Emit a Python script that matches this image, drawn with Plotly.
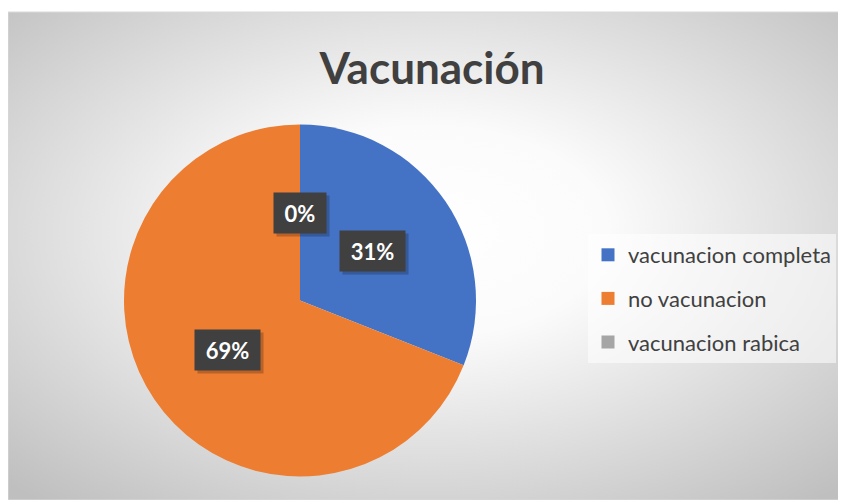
import base64
import math
import plotly.graph_objects as go

# data
labels = ["vacunacion completa", "no vacunacion", "vacunacion rabica"]
values = [31, 69, 0]
colors = ["#4472C4", "#ED7D31", "#A5A5A5"]

# the page body adds an 8px margin, so the figure is 8px smaller and
# everything below is given in page pixels minus that offset
OFF = 8
W, H = 846 - OFF, 500 - OFF
area = dict(x0=0, y0=12 - OFF, x1=W, y1=H)
cx, cy, r = 300 - OFF, 300.5 - OFF, 176

# radial gradient background like the Excel chart area
svg = (
    "<svg xmlns='http://www.w3.org/2000/svg' width='839' height='488' preserveAspectRatio='none'>"
    "<defs><radialGradient id='g' cx='50%' cy='45%' r='72%'>"
    "<stop offset='0' stop-color='#ffffff'/>"
    "<stop offset='0.3' stop-color='#fbfbfb'/>"
    "<stop offset='1' stop-color='#bfbfbf'/>"
    "</radialGradient></defs>"
    "<rect width='100%' height='100%' fill='url(#g)'/></svg>"
)
bg_src = "data:image/svg+xml;base64," + base64.b64encode(svg.encode()).decode()

fig = go.Figure()

fig.add_trace(go.Pie(
    labels=labels,
    values=values,
    marker=dict(colors=colors, line=dict(width=0)),
    sort=False,
    direction="clockwise",
    rotation=0,
    textinfo="none",
    hoverinfo="label+percent",
    showlegend=False,
    domain=dict(x=[(cx - r) / W, (cx + r) / W], y=[1 - (cy + r) / H, 1 - (cy - r) / H]),
))

# legend entries (separate so the row gap can be set)
for lab, col in zip(labels, colors):
    fig.add_trace(go.Scatter(
        x=[None], y=[None], mode="markers", name=lab, legendgroup=lab,
        marker=dict(symbol="square", size=13, color=col),
    ))

# data labels in dark boxes at half radius along each slice's mid angle
total = sum(values)
cum = 0
annotations = []
for v in values:
    mid = (cum + v / 2) / total * 2 * math.pi
    cum += v
    txt = f"{round(v / total * 100)}%"
    px = cx + 0.5 * r * math.sin(mid)
    py_ = cy - 0.5 * r * math.cos(mid)
    box_w = 14 + 13 * len(txt)
    common = dict(x=px / W, y=1 - py_ / H, xref="paper", yref="paper", showarrow=False,
                  xanchor="center", yanchor="middle",
                  width=box_w, height=28, borderpad=6)
    # soft drop shadow behind the box
    annotations.append(dict(text=" ", bgcolor="rgba(0,0,0,0.22)", xshift=3, yshift=-3,
                            font=dict(family="Lato", size=22), **common))
    annotations.append(dict(text=txt, bgcolor="#404040",
                            font=dict(family="Lato", size=22, weight="bold",
                                      color="white"), **common))

fig.update_layout(
    width=W, height=H,
    margin=dict(l=0, r=0, t=0, b=0),
    paper_bgcolor="white",
    plot_bgcolor="rgba(0,0,0,0)",
    xaxis=dict(visible=False),
    yaxis=dict(visible=False),
    title=dict(text="Vacunación", x=(432 - OFF) / W, xanchor="center", y=1 - 61 / H,
               yanchor="middle", yref="paper",
               font=dict(family="Lato", size=44, weight="bold", color="#404040")),
    legend=dict(x=(588 - OFF) / W, y=1 - (234 - OFF) / H, xanchor="left", yanchor="top",
                bgcolor="rgba(255,255,255,0.55)", tracegroupgap=12,
                font=dict(family="Lato", size=22, color="#404040")),
    images=[dict(source=bg_src, xref="paper", yref="paper",
                 x=area["x0"] / W, y=1 - area["y0"] / H,
                 sizex=(area["x1"] - area["x0"]) / W, sizey=(area["y1"] - area["y0"]) / H,
                 sizing="stretch", layer="below")],
    shapes=[dict(type="rect", xref="paper", yref="paper",
                 x0=area["x0"] / W, x1=area["x1"] / W, y0=0, y1=1 - area["y0"] / H,
                 line=dict(color="#d9d9d9", width=1), layer="below")],
    annotations=annotations,
)

fig.write_html("out.html")
